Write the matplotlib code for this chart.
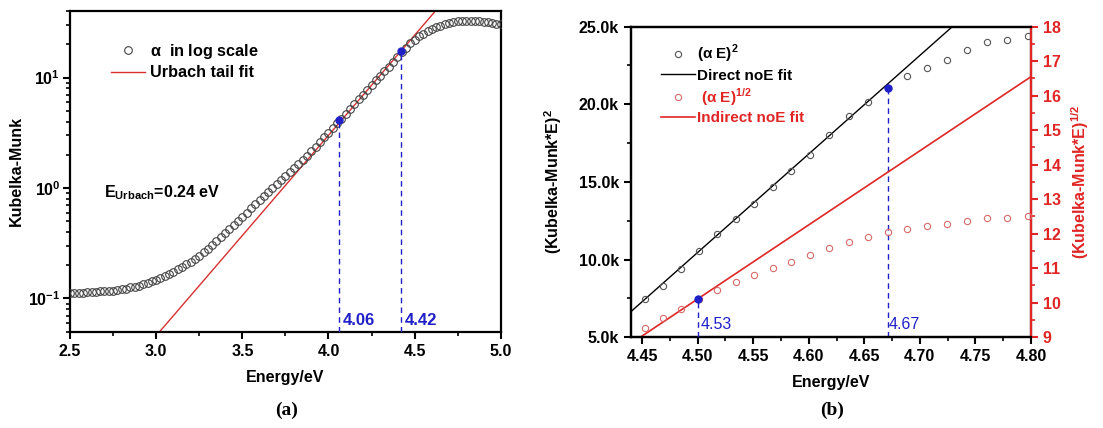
import matplotlib
matplotlib.use("Agg")
import matplotlib.pyplot as plt
import numpy as np
from matplotlib.ticker import MultipleLocator, FuncFormatter, LogLocator, NullFormatter

plt.rcParams['font.family'] = ['Liberation Sans', 'DejaVu Sans']
plt.rcParams['mathtext.fontset'] = 'custom'
plt.rcParams['mathtext.rm'] = 'Liberation Sans'
plt.rcParams['mathtext.bf'] = 'Liberation Sans:bold'

# ---- panel (a): Kubelka-Munk in log scale ----
energy_a = [2.500, 2.525, 2.550, 2.575, 2.600, 2.625, 2.650, 2.675, 2.700, 2.725,
            2.750, 2.775, 2.800, 2.825, 2.850, 2.875, 2.900, 2.925, 2.950, 2.975,
            3.000, 3.025, 3.050, 3.075, 3.100, 3.125, 3.150, 3.175, 3.200, 3.225,
            3.250, 3.275, 3.300, 3.325, 3.350, 3.375, 3.400, 3.425, 3.450, 3.475,
            3.500, 3.525, 3.550, 3.575, 3.600, 3.625, 3.650, 3.675, 3.700, 3.725,
            3.750, 3.775, 3.800, 3.825, 3.850, 3.875, 3.900, 3.925, 3.950, 3.975,
            4.000, 4.025, 4.050, 4.075, 4.100, 4.125, 4.150, 4.175, 4.200, 4.225,
            4.250, 4.275, 4.300, 4.325, 4.350, 4.375, 4.400, 4.425, 4.450, 4.475,
            4.500, 4.525, 4.550, 4.575, 4.600, 4.625, 4.650, 4.675, 4.700, 4.725,
            4.750, 4.775, 4.800, 4.825, 4.850, 4.875, 4.900, 4.925, 4.950, 4.975,
            5.000]
km_a = [0.112, 0.112, 0.113, 0.113, 0.114, 0.114, 0.115, 0.116, 0.116, 0.117,
        0.118, 0.120, 0.121, 0.123, 0.126, 0.128, 0.131, 0.135, 0.139, 0.143,
        0.148, 0.154, 0.160, 0.167, 0.175, 0.184, 0.193, 0.204, 0.215, 0.229,
        0.244, 0.262, 0.283, 0.306, 0.331, 0.358, 0.389, 0.423, 0.461, 0.503,
        0.550, 0.600, 0.655, 0.715, 0.780, 0.850, 0.925, 1.005, 1.09, 1.18,
        1.28, 1.39, 1.51, 1.64, 1.79, 1.96, 2.15, 2.36, 2.60, 2.87,
        3.17, 3.50, 3.86, 4.25, 4.70, 5.20, 5.75, 6.35, 7.00, 7.75,
        8.55, 9.45, 10.4, 11.5, 12.6, 13.9, 15.3, 17.0, 18.7, 20.4,
        22.0, 23.6, 25.0, 26.3, 27.5, 28.6, 29.6, 30.5, 31.3, 31.9,
        32.4, 32.7, 32.8, 32.8, 32.7, 32.5, 32.2, 31.8, 31.3, 30.8,
        30.3]
urbach_x = [3.02, 4.62]
urbach_y = [0.05, 40.0]
marks_a_x = [4.06, 4.42]
marks_a_y = [4.1, 17.5]

# ---- panel (b): Tauc plots ----
energy_b = [4.4526, 4.4688, 4.4850, 4.5012, 4.5177, 4.5342, 4.5510, 4.5675, 4.5843,
            4.6014, 4.6185, 4.6359, 4.6533, 4.6710, 4.6887, 4.7064, 4.7241, 4.7421,
            4.7604, 4.7787, 4.7973]
ae2 = [7450, 8330, 9400, 10540, 11630, 12620, 13580, 14660, 15730,
       16740, 18000, 19250, 20130, 21050, 21800, 22340, 22830, 23520,
       24030, 24120, 24420]
ae_half = [9.28, 9.55, 9.83, 10.10, 10.37, 10.59, 10.79, 11.01, 11.18,
           11.37, 11.58, 11.77, 11.91, 12.04, 12.14, 12.22, 12.28, 12.38,
           12.45, 12.45, 12.50]
direct_x = [4.44, 4.7292]
direct_y = [6650, 25000]
indirect_x = [4.44, 4.80]
indirect_y = [8.82, 16.55]

red = '#e02525'
blue = '#2020c8'

fig = plt.figure(figsize=(11.03, 4.28), dpi=100)

# ================= (a) =================
ax = fig.add_axes([0.0635, 0.225, 0.3905, 0.749])
ax.plot(energy_a, km_a, 'o', mfc='none', mec='#444444', mew=0.8, ms=5.5,
        label=r'$\mathbf{\alpha}$  in log scale', zorder=3)
ax.plot(urbach_x, urbach_y, '-', color='#d83030', lw=1.0, label='Urbach tail fit', zorder=2)
for xv, yv in zip(marks_a_x, marks_a_y):
    ax.plot([xv, xv], [0.05, yv], '--', color=blue, lw=1.0, dashes=(4, 3), zorder=4)
    ax.plot(xv, yv, 'o', color=blue, ms=5, zorder=5)
    ax.text(xv + 0.02, 0.0535, '{:.2f}'.format(xv), color=blue, fontsize=12,
            fontweight='bold', ha='left', va='bottom')
ax.set_yscale('log')
ax.set_xlim(2.5, 5.0)
ax.set_ylim(0.05, 40)
ax.xaxis.set_major_locator(MultipleLocator(0.5))
ax.xaxis.set_minor_locator(MultipleLocator(0.25))
ax.xaxis.set_major_formatter(FuncFormatter(lambda v, p: '{:.1f}'.format(v)))
ax.yaxis.set_major_locator(LogLocator(base=10, numticks=10))
ax.yaxis.set_minor_locator(LogLocator(base=10, subs=range(2, 10), numticks=10))
ax.yaxis.set_major_formatter(FuncFormatter(
    lambda v, p: r'$\mathbf{10^{%d}}$' % int(round(np.log10(v)))))
ax.yaxis.set_minor_formatter(NullFormatter())
ax.tick_params(axis='both', which='major', direction='out', length=5, width=1.5,
               labelsize=11.5)
ax.tick_params(axis='y', which='major', pad=2)
ax.tick_params(axis='both', which='minor', direction='out', length=3, width=1.2)
for lab in ax.get_xticklabels() + ax.get_yticklabels():
    lab.set_fontweight('bold')
for sp in ax.spines.values():
    sp.set_linewidth(1.6)
ax.set_xlabel('Energy/eV', fontsize=11.5, fontweight='bold', labelpad=8)
ax.set_ylabel('Kubelka-Munk', fontsize=11.5, fontweight='bold')
ax.yaxis.set_label_coords(-0.107, 0.5)
ax.text(2.7, 0.9, r'E$_{\mathbf{Urbach}}$=0.24 eV', fontsize=11.5, fontweight='bold',
        ha='left', va='center')
leg = ax.legend(loc='upper left', bbox_to_anchor=(0.095, 0.905), frameon=False,
                prop={'weight': 'bold', 'size': 11.7}, handlelength=2.1,
                handletextpad=0.3, borderaxespad=0, borderpad=0, labelspacing=0.3)
fig.text(0.26, 0.042, '(a)', family='Liberation Serif', fontsize=14,
         fontweight='bold', ha='center', va='center')

# ================= (b) =================
bx = fig.add_axes([0.572, 0.212, 0.3627, 0.7257])
bx2 = bx.twinx()
bx.plot(energy_b, ae2, 'o', mfc='none', mec='#555555', mew=0.8, ms=4.5,
        label=r'(α E)$^{\mathbf{2}}$', zorder=3)
bx.plot(direct_x, direct_y, '-', color='black', lw=1.0, label='Direct noE fit', zorder=2)
bx2.plot(energy_b, ae_half, 'o', mfc='none', mec='#d86a6a', mew=0.8, ms=4.5,
         label=r' (α E)$^{\mathbf{1/2}}$', zorder=3)
bx2.plot(indirect_x, indirect_y, '-', color=red, lw=1.2, label='Indirect noE fit', zorder=2)

# marker lines
bx.plot([energy_b[13], energy_b[13]], [5000, ae2[13]], '--', color=blue, lw=1.0,
        dashes=(4, 3), zorder=4)
bx.plot(energy_b[13], ae2[13], 'o', color=blue, ms=5, zorder=5)
bx2.plot([4.5005, 4.5005], [9.0, 10.12], '--', color=blue, lw=1.0, dashes=(4, 3), zorder=4)
bx2.plot(4.5005, 10.12, 'o', color=blue, ms=5, zorder=5)
bx.text(4.503, 5800, '4.53', color=blue, fontsize=11.5, ha='left', va='center')
bx.text(4.672, 5800, '4.67', color=blue, fontsize=11.5, ha='left', va='center')

bx.set_xlim(4.44, 4.80)
bx.set_ylim(5000, 25000)
bx2.set_ylim(9, 18)
bx.xaxis.set_major_locator(MultipleLocator(0.05))
bx.xaxis.set_minor_locator(MultipleLocator(0.025))
bx.xaxis.set_major_formatter(FuncFormatter(lambda v, p: '{:.2f}'.format(v)))
bx.yaxis.set_major_locator(MultipleLocator(5000))
bx.yaxis.set_minor_locator(MultipleLocator(2500))
bx.yaxis.set_major_formatter(FuncFormatter(lambda v, p: '{:.1f}k'.format(v / 1000)))
bx2.yaxis.set_major_locator(MultipleLocator(1))
bx2.yaxis.set_minor_locator(MultipleLocator(0.5))
bx.tick_params(axis='both', which='major', direction='out', length=5, width=1.5, labelsize=11.5)
bx.tick_params(axis='both', which='minor', direction='out', length=3, width=1.2)
bx2.tick_params(axis='y', which='major', direction='out', length=5, width=1.5,
                labelsize=11.5, colors=red)
bx2.tick_params(axis='y', which='minor', direction='out', length=3, width=1.2, colors=red)
for lab in bx.get_xticklabels() + bx.get_yticklabels() + bx2.get_yticklabels():
    lab.set_fontweight('bold')
for sp in bx.spines.values():
    sp.set_linewidth(1.6)
for sp in bx2.spines.values():
    sp.set_linewidth(1.6)
bx2.spines['right'].set_color(red)
bx.set_xlabel('Energy/eV', fontsize=11.5, fontweight='bold', labelpad=8)
bx.set_ylabel(r'(Kubelka-Munk*E)$^{\mathbf{2}}$', fontsize=11.5, fontweight='bold')
bx.yaxis.set_label_coords(-0.168, 0.5)
bx2.set_ylabel(r'(Kubelka-Munk*E)$^{\mathbf{1/2}}$', fontsize=11.5, fontweight='bold',
               color=red)
bx2.yaxis.set_label_coords(1.095, 0.5)

h1, l1 = bx.get_legend_handles_labels()
h2, l2 = bx2.get_legend_handles_labels()
leg2 = bx2.legend(h1[:2] + h2[:2], l1[:2] + l2[:2], loc='upper left',
                  bbox_to_anchor=(0.075, 0.947), frameon=False,
                  prop={'weight': 'bold', 'size': 11}, handlelength=2.2,
                  handletextpad=0.15, borderaxespad=0, borderpad=0, labelspacing=0.22,
                  labelcolor=['black', 'black', red, red])
fig.text(0.754, 0.042, '(b)', family='Liberation Serif', fontsize=14,
         fontweight='bold', ha='center', va='center')

fig.savefig('out.png', dpi=100)
